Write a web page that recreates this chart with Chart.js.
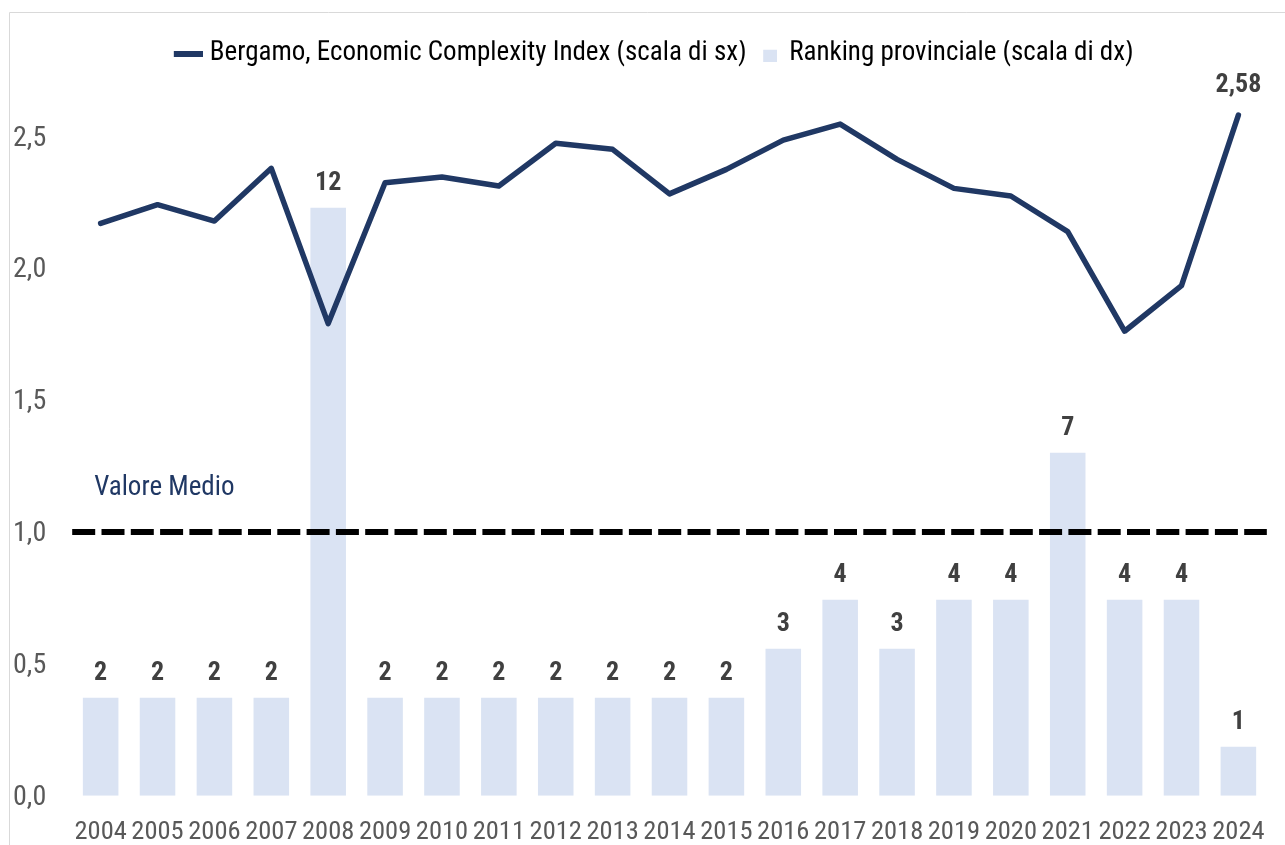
<!DOCTYPE html>
<html>
<head>
<meta charset="utf-8">
<script src="https://cdn.jsdelivr.net/npm/chart.js@4.4.1/dist/chart.umd.min.js"></script>
<style>
  html, body { margin: 0; padding: 0; background: #ffffff; overflow: hidden; }
  #wrap { width: 1285px; height: 845px; position: relative; }
</style>
</head>
<body>
<div id="wrap"><canvas id="c" width="1285" height="845"></canvas></div>
<script>
// ---- data ----
const years = ['2004','2005','2006','2007','2008','2009','2010','2011','2012','2013','2014',
               '2015','2016','2017','2018','2019','2020','2021','2022','2023','2024'];
const eciValues = [2.171, 2.242, 2.180, 2.380, 1.791, 2.325, 2.347, 2.313, 2.475, 2.452, 2.283,
                   2.376, 2.487, 2.548, 2.414, 2.304, 2.275, 2.140, 1.762, 1.935, 2.582];
const rankValues = [2, 2, 2, 2, 12, 2, 2, 2, 2, 2, 2, 2, 3, 4, 3, 4, 4, 7, 4, 4, 1];
const leftTickStep = 0.5;
const averageValue = 1.0;
const averageLabel = 'Valore Medio';
const lineLabelIndexes = [20];
const seriesNames = ['Bergamo, Economic Complexity Index (scala di sx)', 'Ranking provinciale (scala di dx)'];

// ---- style ----
const FONT = "'Roboto Condensed', 'Liberation Sans', Arial, sans-serif";
const NAVY = '#203864';
const BAR = '#DAE3F3';
const TICK = '#595959';
const LABEL = '#404040';
const legendOffsetX = 9.2;

const fmt = (v, d) => v.toFixed(d).replace('.', ',');

// legend markers (line swatch and square swatch)
function makeSwatch(w, h, x0, y0, mw, mh, color) {
  const cv = document.createElement('canvas');
  cv.width = w; cv.height = h;
  const g = cv.getContext('2d');
  g.fillStyle = color;
  g.fillRect(x0, y0, mw, mh);
  return cv;
}
const lineSwatch = makeSwatch(42, 6, 13, 0, 29, 6, NAVY);
const barSwatch = makeSwatch(32, 16, 18, 4, 14, 12, BAR);

const framePlugin = {
  id: 'frame',
  beforeDraw(chart) {
    const ctx = chart.ctx;
    ctx.save();
    ctx.strokeStyle = '#D9D9D9';
    ctx.lineWidth = 1;
    ctx.beginPath();
    ctx.moveTo(9.5, chart.height);
    ctx.lineTo(9.5, 12.5);
    ctx.lineTo(chart.width, 12.5);
    ctx.stroke();
    ctx.restore();
  }
};

const legendShiftPlugin = {
  id: 'legendShift',
  afterLayout(chart) {
    const lg = chart.legend;
    if (lg) { lg.left += legendOffsetX; lg.right += legendOffsetX; }
  }
};

const averagePlugin = {
  id: 'averageLine',
  afterDatasetsDraw(chart) {
    const ctx = chart.ctx;
    const area = chart.chartArea;
    const y = chart.scales.y.getPixelForValue(averageValue);
    ctx.save();
    ctx.strokeStyle = '#000000';
    ctx.lineWidth = 6;
    ctx.setLineDash([23, 6.3]);
    ctx.beginPath();
    ctx.moveTo(area.left, y);
    ctx.lineTo(area.right, y);
    ctx.stroke();
    ctx.setLineDash([]);
    ctx.fillStyle = NAVY;
    ctx.font = '27px ' + FONT;
    ctx.textAlign = 'left';
    ctx.textBaseline = 'middle';
    ctx.fillText(averageLabel, area.left + 22, y - 44);
    ctx.restore();
  }
};

const valueLabelPlugin = {
  id: 'valueLabels',
  afterDatasetsDraw(chart) {
    const ctx = chart.ctx;
    ctx.save();
    ctx.fillStyle = LABEL;
    ctx.font = 'bold 26px ' + FONT;
    ctx.textAlign = 'center';
    ctx.textBaseline = 'middle';
    const barMeta = chart.getDatasetMeta(1);
    barMeta.data.forEach((el, i) => {
      ctx.fillText(String(rankValues[i]), el.x, el.y - 24.5);
    });
    const lineMeta = chart.getDatasetMeta(0);
    lineLabelIndexes.forEach(i => {
      const el = lineMeta.data[i];
      ctx.fillText(fmt(eciValues[i], 2), el.x, el.y - 30);
    });
    ctx.restore();
  }
};

new Chart(document.getElementById('c'), {
  type: 'bar',
  data: {
    labels: years,
    datasets: [
      {
        type: 'line',
        label: seriesNames[0],
        data: eciValues,
        yAxisID: 'y',
        borderColor: NAVY,
        backgroundColor: NAVY,
        borderWidth: 5.5,
        borderJoinStyle: 'round',
        borderCapStyle: 'round',
        pointRadius: 0,
        pointHoverRadius: 0,
        pointStyle: lineSwatch,
        tension: 0,
        order: 0
      },
      {
        type: 'bar',
        label: seriesNames[1],
        data: rankValues,
        yAxisID: 'y1',
        backgroundColor: BAR,
        borderWidth: 0,
        pointStyle: barSwatch,
        categoryPercentage: 1.0,
        barPercentage: 0.625,
        order: 1
      }
    ]
  },
  options: {
    responsive: false,
    animation: false,
    devicePixelRatio: 1,
    layout: { padding: { top: 40.2, left: 0, right: 2.4, bottom: 0 } },
    plugins: {
      legend: {
        position: 'top',
        align: 'center',
        labels: {
          usePointStyle: true,
          pointStyleWidth: 29,
          boxHeight: 14,
          padding: 0,
          color: '#000000',
          font: { family: FONT, size: 27 }
        }
      },
      tooltip: { enabled: false }
    },
    scales: {
      x: {
        grid: { display: false, drawTicks: false },
        border: { display: false },
        ticks: { color: TICK, font: { family: FONT, size: 26.5 }, padding: 20.4, maxRotation: 0, autoSkip: false },
        afterFit(scale) { scale.height = 49.3; }
      },
      y: {
        position: 'left',
        min: 0,
        max: 2.7257,
        grid: { display: false, drawTicks: false },
        border: { display: false },
        ticks: {
          stepSize: leftTickStep,
          includeBounds: false,
          color: TICK,
          padding: 26,
          labelOffset: 2,
          font: { family: FONT, size: 28 },
          callback: (v) => fmt(v, 1)
        },
        afterFit(scale) { scale.width = 72.2; }
      },
      y1: {
        position: 'right',
        display: false,
        min: 0,
        max: 14.663,
        grid: { display: false }
      }
    }
  },
  plugins: [framePlugin, legendShiftPlugin, averagePlugin, valueLabelPlugin]
});
</script>
</body>
</html>
